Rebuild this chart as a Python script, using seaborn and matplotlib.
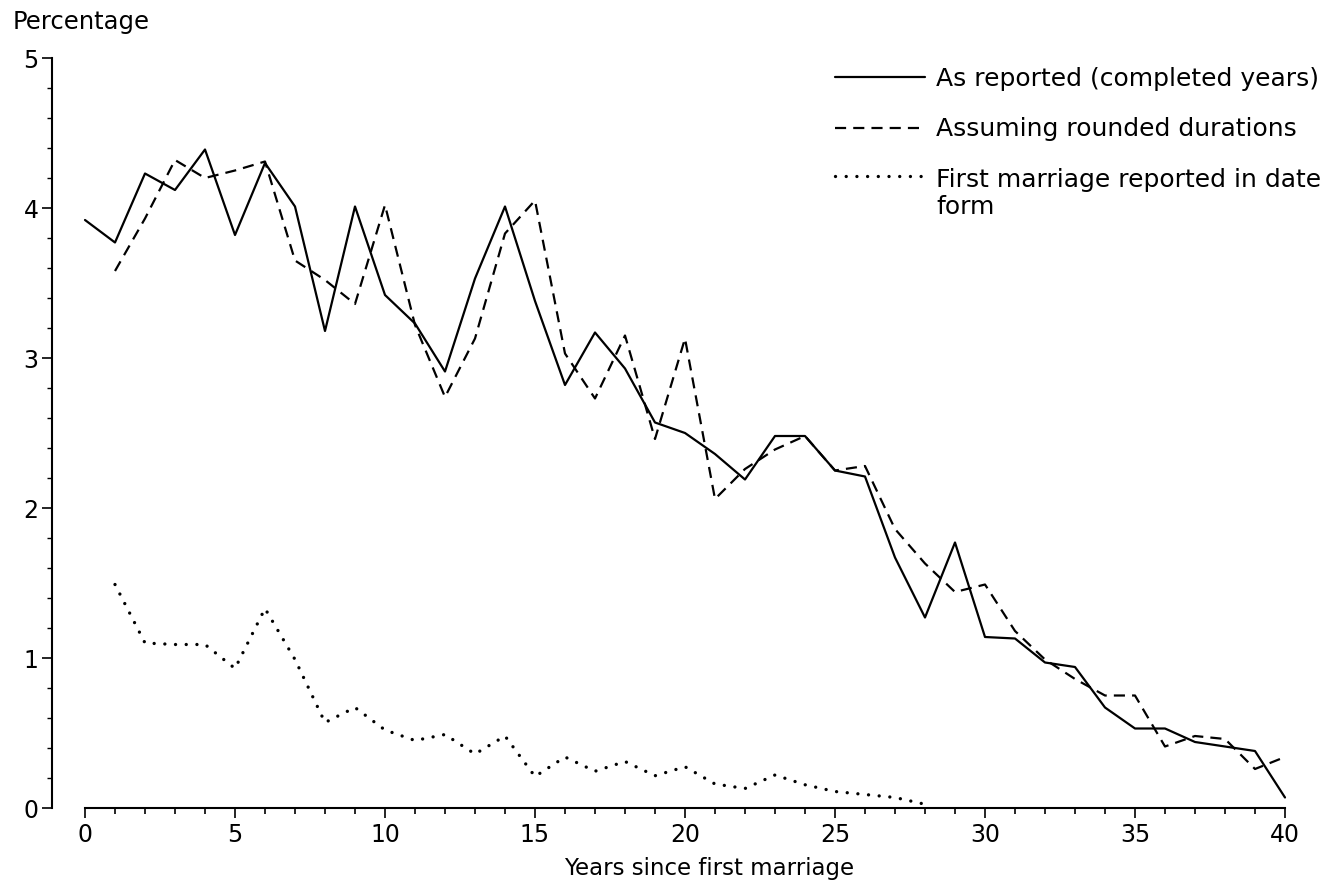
import matplotlib
matplotlib.use("Agg")
import matplotlib.pyplot as plt
from matplotlib.ticker import MultipleLocator
import seaborn as sns
import pandas as pd

# Percentage of first marriages by years since marriage
years_reported = list(range(0, 41))
as_reported = [3.92, 3.77, 4.23, 4.12, 4.39, 3.82, 4.30, 4.01, 3.18, 4.01,
               3.42, 3.23, 2.91, 3.53, 4.01, 3.38, 2.82, 3.17, 2.93, 2.57,
               2.50, 2.36, 2.19, 2.48, 2.48, 2.25, 2.21, 1.67, 1.27, 1.77,
               1.14, 1.13, 0.97, 0.94, 0.67, 0.53, 0.53, 0.44, 0.41, 0.38, 0.07]

years_rounded = list(range(1, 41))
rounded_durations = [3.58, 3.93, 4.32, 4.20, 4.25, 4.31, 3.65, 3.52, 3.36, 4.02,
                     3.22, 2.74, 3.13, 3.83, 4.05, 3.03, 2.73, 3.15, 2.46, 3.13,
                     2.06, 2.26, 2.39, 2.48, 2.25, 2.28, 1.86, 1.63, 1.44, 1.49,
                     1.18, 0.99, 0.86, 0.75, 0.75, 0.41, 0.48, 0.46, 0.26, 0.34]

years_date_form = list(range(1, 29))
date_form = [1.49, 1.10, 1.09, 1.09, 0.93, 1.33, 0.99, 0.57, 0.67, 0.52,
             0.45, 0.49, 0.36, 0.48, 0.21, 0.34, 0.245, 0.31, 0.215, 0.275,
             0.16, 0.13, 0.22, 0.155, 0.11, 0.09, 0.07, 0.025]

series_labels = ["As reported (completed years)",
                 "Assuming rounded durations",
                 "First marriage reported in date\nform"]

x_ticks = [0, 5, 10, 15, 20, 25, 30, 35, 40]
y_ticks = [0, 1, 2, 3, 4, 5]

sns.set_theme(style="ticks")
plt.rcParams["font.family"] = ["DejaVu Sans"]
plt.rcParams["text.color"] = "black"
plt.rcParams["axes.labelcolor"] = "black"
plt.rcParams["xtick.color"] = "black"
plt.rcParams["ytick.color"] = "black"

W, H = 1329, 881
fig = plt.figure(figsize=(W / 100, H / 100), dpi=100)
ax = fig.add_axes([85 / W, 1 - 808 / H, 1200 / W, 750 / H])

df_rep = pd.DataFrame({"year": years_reported, "pct": as_reported})
df_rnd = pd.DataFrame({"year": years_rounded, "pct": rounded_durations})
df_date = pd.DataFrame({"year": years_date_form, "pct": date_form})

sns.lineplot(data=df_rep, x="year", y="pct", ax=ax, color="black",
             linewidth=1.6, linestyle="-", label=series_labels[0],
             clip_on=False)
sns.lineplot(data=df_rnd, x="year", y="pct", ax=ax, color="black",
             linewidth=1.6, linestyle=(0, (5.0, 3.2)), label=series_labels[1],
             clip_on=False)
sns.lineplot(data=df_date, x="year", y="pct", ax=ax, color="black",
             linewidth=2.4, linestyle=(0, (0.01, 3.2)),
             dash_capstyle="round", label=series_labels[2], clip_on=False)

ax.set_xlim(0, 40)
ax.set_ylim(0, 5)
ax.set_xticks(x_ticks)
ax.set_yticks(y_ticks)
ax.xaxis.set_minor_locator(MultipleLocator(1))
ax.yaxis.set_minor_locator(MultipleLocator(0.2))

ax.tick_params(axis="x", which="major", direction="out", length=7.5,
               width=1.2, pad=3.5, labelsize=17)
ax.tick_params(axis="x", which="minor", direction="out", length=4.5, width=1.2)
ax.tick_params(axis="y", which="major", direction="out", length=7,
               width=1.2, pad=2.5, labelsize=17)
ax.tick_params(axis="y", which="minor", direction="out", length=3.5, width=1.0)

for side in ("top", "right"):
    ax.spines[side].set_visible(False)
ax.spines["left"].set_position(("outward", 24))
ax.spines["left"].set_bounds(0, 5)
ax.spines["bottom"].set_bounds(0, 40)
for side in ("left", "bottom"):
    ax.spines[side].set_linewidth(1.5)
    ax.spines[side].set_color("black")

ax.set_xlabel("Years since first marriage", fontsize=16.5)
ax.xaxis.set_label_coords(0.52, -0.0893)
ax.xaxis.label.set_va("baseline")

ax.set_ylabel("Percentage", fontsize=17.5, rotation=0, ha="left", va="baseline")
ax.yaxis.set_label_coords(-0.06, 1.038)

handles, labels = ax.get_legend_handles_labels()
leg = ax.legend(handles, labels, loc="upper left",
                bbox_to_anchor=(835 / W, 1 - 67 / H),
                bbox_transform=fig.transFigure, frameon=False,
                fontsize=18, handlelength=3.6, handletextpad=0.45,
                labelspacing=1.05, borderpad=0, borderaxespad=0)
# keep the dotted key level with the first line of its two-line label
try:
    rows = leg._legend_handle_box.get_children()[0].get_children()
    rows[2].align = "top"
except Exception:
    pass

fig.savefig("out.png", dpi=100, facecolor="white")
